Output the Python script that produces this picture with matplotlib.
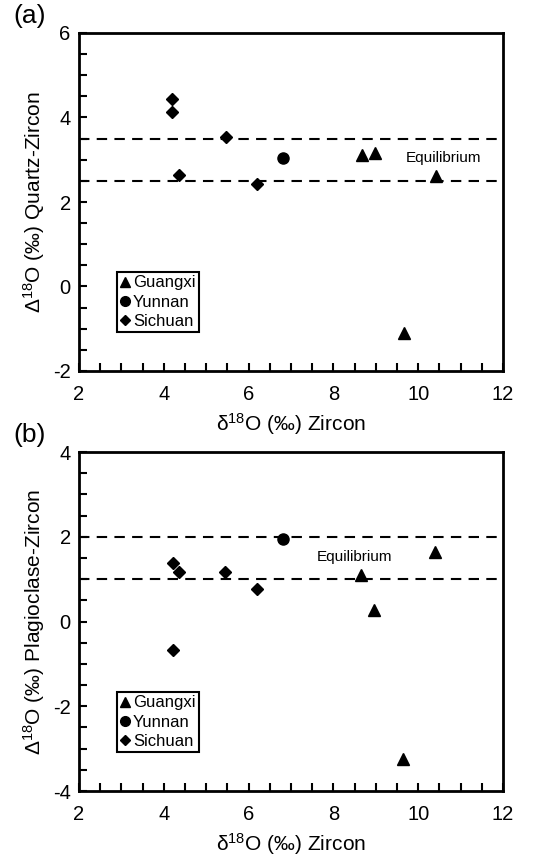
import matplotlib
matplotlib.use("Agg")
import matplotlib.pyplot as plt
from matplotlib.ticker import MultipleLocator
from matplotlib.lines import Line2D

plt.rcParams['font.family'] = ['Liberation Sans', 'DejaVu Sans']
plt.rcParams['mathtext.fontset'] = 'custom'
plt.rcParams['mathtext.rm'] = 'Liberation Sans'
plt.rcParams['mathtext.it'] = 'Liberation Sans:italic'
plt.rcParams['axes.unicode_minus'] = False

# panel (a): quartz-zircon
qz_guangxi_x = [8.67, 8.98, 10.41, 9.66]
qz_guangxi_y = [3.12, 3.16, 2.62, -1.09]
qz_yunnan_x = [6.82]
qz_yunnan_y = [3.05]
qz_sichuan_x = [4.20, 4.20, 5.46, 4.36, 6.19]
qz_sichuan_y = [4.44, 4.14, 3.53, 2.64, 2.43]
qz_equilibrium = [3.5, 2.5]

# panel (b): plagioclase-zircon
pz_guangxi_x = [8.65, 8.96, 10.40, 9.65]
pz_guangxi_y = [1.10, 0.26, 1.64, -3.24]
pz_yunnan_x = [6.80]
pz_yunnan_y = [1.95]
pz_sichuan_x = [4.21, 4.35, 5.45, 6.19, 4.21]
pz_sichuan_y = [1.38, 1.17, 1.17, 0.77, -0.67]
pz_equilibrium = [2.0, 1.0]

fig = plt.figure(figsize=(5.46, 8.55), dpi=100)
ax_a = fig.add_axes([79 / 546, 1 - 371 / 855, 424 / 546, 338 / 855])
ax_b = fig.add_axes([79 / 546, 1 - 791 / 855, 424 / 546, 339 / 855])


def draw_panel(ax, gx, gy, yx, yy, sx, sy, eq, ylim, ylabel, eq_pos, tag):
    for level in eq:
        ax.axhline(level, color='black', lw=1.5, dashes=(5, 3.5), zorder=1)
    ax.plot(gx, gy, '^', color='black', ms=9, ls='none', zorder=3)
    ax.plot(yx, yy, 'o', color='black', ms=8, ls='none', zorder=3)
    ax.plot(sx, sy, 'D', color='black', ms=6, ls='none', zorder=3)
    ax.text(eq_pos[0], eq_pos[1], 'Equilibrium', fontsize=11,
            ha='center', va='center')

    ax.set_xlim(2, 12)
    ax.set_ylim(*ylim)
    ax.xaxis.set_major_locator(MultipleLocator(2))
    ax.xaxis.set_minor_locator(MultipleLocator(0.5))
    ax.yaxis.set_major_locator(MultipleLocator(2))
    ax.yaxis.set_minor_locator(MultipleLocator(0.5))
    ax.tick_params(which='both', direction='in', length=6, width=1.5,
                   top=False, right=False, labelsize=14.5)
    ax.tick_params(axis='x', pad=10)
    ax.tick_params(axis='y', pad=6)
    for sp in ax.spines.values():
        sp.set_linewidth(2)
    ax.set_xlabel('δ$^{18}$O (‰) Zircon', fontsize=15, labelpad=5)
    ax.set_ylabel(ylabel, fontsize=15, labelpad=4)

    handles = [
        Line2D([], [], marker='^', color='black', ls='none', ms=7),
        Line2D([], [], marker='o', color='black', ls='none', ms=7),
        Line2D([], [], marker='D', color='black', ls='none', ms=5),
    ]
    leg = ax.legend(handles, ['Guangxi', 'Yunnan', 'Sichuan'],
                    loc='lower left', bbox_to_anchor=(0.09, 0.115),
                    fontsize=12, handlelength=0.6, handletextpad=0.15,
                    labelspacing=0.25, borderpad=0.2, borderaxespad=0,
                    fancybox=False, framealpha=1, edgecolor='black')
    leg.get_frame().set_linewidth(1.5)
    ax.text(-0.155, 1.05, tag, transform=ax.transAxes, fontsize=19,
            ha='left', va='center')


draw_panel(ax_a, qz_guangxi_x, qz_guangxi_y, qz_yunnan_x, qz_yunnan_y,
           qz_sichuan_x, qz_sichuan_y, qz_equilibrium, (-2, 6),
           'Δ$^{18}$O (‰) Quartz-Zircon', (10.6, 3.05), '(a)')
draw_panel(ax_b, pz_guangxi_x, pz_guangxi_y, pz_yunnan_x, pz_yunnan_y,
           pz_sichuan_x, pz_sichuan_y, pz_equilibrium, (-4, 4),
           'Δ$^{18}$O (‰) Plagioclase-Zircon', (8.5, 1.52), '(b)')

fig.savefig('out.png', dpi=100)
